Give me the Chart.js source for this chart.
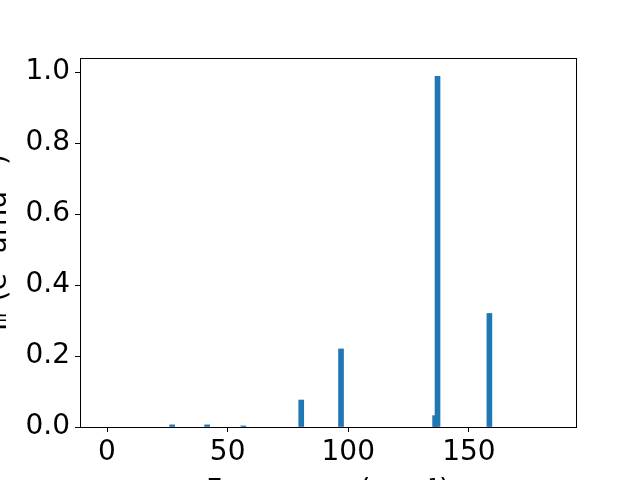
<!DOCTYPE html>
<html>
<head>
<meta charset="utf-8">
<script src="https://cdn.jsdelivr.net/npm/chart.js@4/dist/chart.umd.min.js"></script>
<style>
  html, body { margin: 0; padding: 0; width: 640px; height: 480px; overflow: hidden; background: #fff; }
  #wrap { position: absolute; left: -18px; top: 0; width: 658px; height: 509px; }
</style>
</head>
<body>
<div id="wrap"><canvas id="myChart"></canvas></div>
<script>
// data
const frequencies = [27, 41.5, 56.5, 80.5, 97, 136, 137, 158.5];
const intensities = [0.006, 0.006, 0.003, 0.076, 0.22, 0.032, 0.988, 0.32];
const xTicks = [0, 50, 100, 150];
const yTicks = [0.0, 0.2, 0.4, 0.6, 0.8, 1.0];

const font = { family: 'DejaVu Sans', size: 28 };

// the frame round the plot (matplotlib draws all four spines)
const frame = {
  id: 'frame',
  afterDraw(chart) {
    const a = chart.chartArea, c = chart.ctx;
    c.save();
    c.strokeStyle = '#000';
    c.lineWidth = 1;
    c.strokeRect(Math.round(a.left) + 0.5, Math.round(a.top) + 0.5, Math.round(a.right - a.left), Math.round(a.bottom - a.top));
    c.restore();
  }
};

const ctx = document.getElementById('myChart').getContext('2d');
const myChart = new Chart(ctx, {
  type: 'bar',
  data: {
    datasets: [{
      data: frequencies.map((f, i) => ({ x: f, y: intensities[i] })),
      backgroundColor: '#1f77b4',
      barThickness: 5,
    }]
  },
  options: {
    animation: false,
    responsive: true,
    maintainAspectRatio: false,
    devicePixelRatio: 1,
    layout: { padding: { left: 0, top: 58, right: 64, bottom: 0 } },
    plugins: { legend: { display: false }, tooltip: { enabled: false } },
    scales: {
      x: {
        type: 'linear',
        offset: false,
        min: -11.2,
        max: 194.4,
        afterBuildTicks: s => { s.ticks = xTicks.map(v => ({ value: v })) },
        afterFit: s => { s.height = 82 },
        ticks: { font, color: '#000', padding: 4, maxRotation: 0, callback: v => String(v) },
        grid: { offset: false, drawOnChartArea: false, drawTicks: true, tickLength: 5, color: '#000' },
        border: { display: false },
        title: { display: true, text: 'Frequency (cm⁻¹)', font, color: '#000', padding: 0 }
      },
      y: {
        min: 0,
        max: 1.04,
        afterBuildTicks: s => { s.ticks = yTicks.map(v => ({ value: v })) },
        afterFit: s => { s.width = 98 },
        ticks: { font, color: '#000', padding: 5, callback: v => v.toFixed(1) },
        grid: { drawOnChartArea: false, drawTicks: true, tickLength: 5, color: '#000' },
        border: { display: false },
        title: { display: true, text: 'Iᵢᵣ (e² amu⁻¹)', font, color: '#000', padding: 0 }
      }
    }
  },
  plugins: [frame]
});
</script>
</body>
</html>
